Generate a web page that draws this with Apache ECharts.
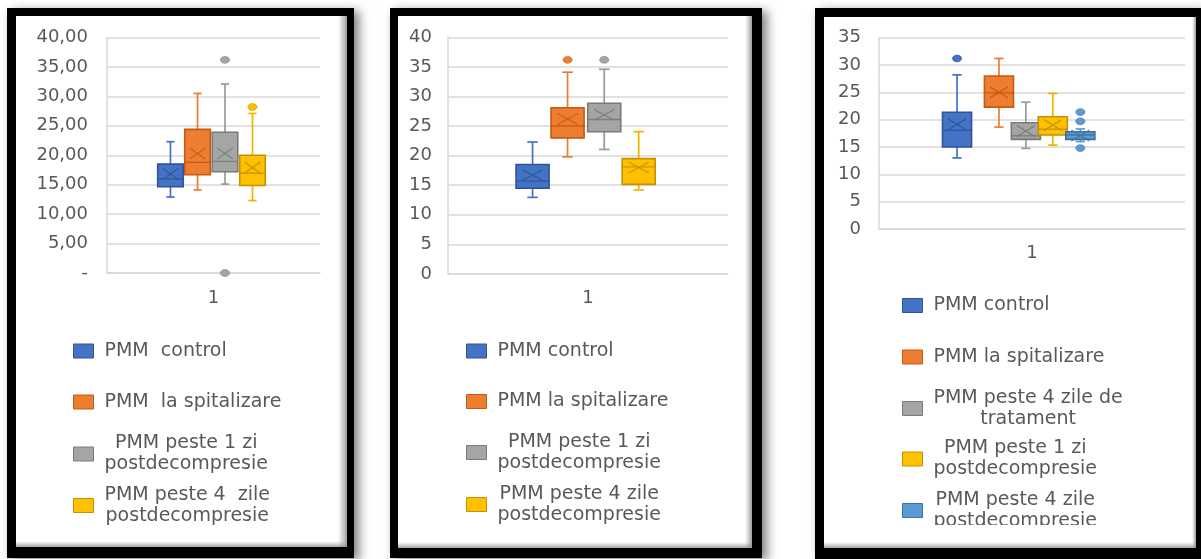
<!DOCTYPE html>
<html>
<head>
<meta charset="utf-8">
<title>PMM</title>
<script src="https://cdn.jsdelivr.net/npm/echarts@6/dist/echarts.min.js"></script>
<style>
  html, body { margin: 0; padding: 0; background: #ffffff; }
  #chart { width: 1201px; height: 559px; }
</style>
</head>
<body>
<div id="chart"></div>
<script>
const categories = ['1'];

// Left panel
const p1Names = ['PMM  control', 'PMM  la spitalizare', 'PMM peste 1 zi\npostdecompresie', 'PMM peste 4  zile\npostdecompresie'];
const p1Min      = [12.9, 14.1, 15.1, 12.3];
const p1Q1       = [14.65, 16.7, 17.2, 14.85];
const p1Median   = [16.0, 18.8, 18.95, 16.95];
const p1Q3       = [18.5, 24.4, 23.9, 20.0];
const p1Max      = [22.3, 30.5, 32.1, 27.1];
const p1Mean     = [16.8, 20.3, 20.3, 17.9];
const p1Outliers = [[], [], [36.2, 0], [28.2]];
const p1Ticks    = ['-', '5,00', '10,00', '15,00', '20,00', '25,00', '30,00', '35,00', '40,00'];

// Middle panel
const p2Names = ['PMM control', 'PMM la spitalizare', 'PMM peste 1 zi\npostdecompresie', 'PMM peste 4 zile\npostdecompresie'];
const p2Min      = [12.95, 19.8, 21.05, 14.2];
const p2Q1       = [14.5, 23.0, 24.05, 15.15];
const p2Median   = [15.7, 25.0, 26.1, 18.1];
const p2Q3       = [18.5, 28.1, 28.85, 19.5];
const p2Max      = [22.3, 34.1, 34.6, 24.05];
const p2Mean     = [16.7, 26.2, 26.9, 18.0];
const p2Outliers = [[], [36.2], [36.2], []];
const p2Ticks    = ['0', '5', '10', '15', '20', '25', '30', '35', '40'];

// Right panel
const p3Names = ['PMM control', 'PMM la spitalizare', 'PMM peste 4 zile de\ntratament', 'PMM peste 1 zi\npostdecompresie', 'PMM peste 4 zile\npostdecompresie'];
const p3Min      = [13.0, 18.65, 14.75, 15.35, 16.0];
const p3Q1       = [15.0, 22.3, 16.4, 17.2, 16.4];
const p3Median   = [18.05, 24.9, 17.05, 18.25, 17.2];
const p3Q3       = [21.35, 28.0, 19.45, 20.55, 17.8];
const p3Max      = [28.2, 31.2, 23.2, 24.8, 18.3];
const p3Mean     = [19.15, 25.0, 17.9, 19.0, 17.1];
const p3Outliers = [[31.2], [], [], [], [21.4, 19.7, 14.8]];
const p3Ticks    = ['0', '5', '10', '15', '20', '25', '30', '35'];

const FONT = 'DejaVu Sans';
const TEXT = '#595959';
const GRIDLINE = '#d9d9d9';

const BLUE   = { fill: '#4472c4', edge: '#2f5597', whisker: '#4472c4' };
const ORANGE = { fill: '#ed7d31', edge: '#c55a11', whisker: '#ea7b35' };
const GRAY   = { fill: '#a5a5a5', edge: '#7a7a7a', whisker: '#9a9a9a' };
const YELLOW = { fill: '#ffc000', edge: '#c29200', whisker: '#eeb400' };
const LBLUE  = { fill: '#5b9bd5', edge: '#3f70a0', whisker: '#5b9bd5' };

const panels = [
  {
    names: p1Names, min: p1Min, q1: p1Q1, median: p1Median, q3: p1Q3, max: p1Max, mean: p1Mean,
    outliers: p1Outliers, ticks: p1Ticks, yMax: 40,
    colors: [BLUE, ORANGE, GRAY, YELLOW],
    grid: { left: 107, top: 37.5, width: 213, height: 235.5 },
    yLabelMargin: 19, xLabelMargin: 16,
    legendLeft: 73, legendRows: [352, 403, 455, 506.5],
    offsets: [-0.202, -0.075, 0.054, 0.183], boxWidth: 0.12
  },
  {
    names: p2Names, min: p2Min, q1: p2Q1, median: p2Median, q3: p2Q3, max: p2Max, mean: p2Mean,
    outliers: p2Outliers, ticks: p2Ticks, yMax: 40,
    colors: [BLUE, ORANGE, GRAY, YELLOW],
    grid: { left: 448, top: 37.3, width: 280, height: 236.7 },
    yLabelMargin: 16, xLabelMargin: 15,
    legendLeft: 466, legendRows: [352, 402.5, 453.5, 505.5],
    offsets: [-0.198, -0.073, 0.058, 0.181], boxWidth: 0.118
  },
  {
    names: p3Names, min: p3Min, q1: p3Q1, median: p3Median, q3: p3Q3, max: p3Max, mean: p3Mean,
    outliers: p3Outliers, ticks: p3Ticks, yMax: 35,
    colors: [BLUE, ORANGE, GRAY, YELLOW, LBLUE],
    grid: { left: 879, top: 37.7, width: 306, height: 191.3 },
    yLabelMargin: 18, xLabelMargin: 15,
    legendLeft: 902, legendRows: [306.5, 358, 409.5, 460, 511.5],
    offsets: [-0.245, -0.108, -0.020, 0.068, 0.158], boxWidth: 0.095
  }
];

// Box with whiskers, median line and an X at the mean
function boxRenderer(color, offset, widthFrac) {
  return function (params, api) {
    const band = api.size([1, 0])[0];
    const cat = api.value(0);
    const cx = api.coord([cat, 0])[0] + offset * band;
    const w = widthFrac * band;
    const yv = d => api.coord([cat, api.value(d)])[1];
    const yMin = yv(1), yQ1 = yv(2), yMed = yv(3), yQ3 = yv(4), yMax = yv(5), yMean = yv(6);
    const cap = w * 0.16;
    const mx = w * 0.31, my = 5.5;
    const whisker = { stroke: color.whisker, lineWidth: 1.7 };
    const inner = { stroke: color.edge, lineWidth: 1.3, opacity: 0.85 };
    return {
      type: 'group',
      children: [
        { type: 'line', shape: { x1: cx, y1: yMax, x2: cx, y2: yQ3 }, style: whisker },
        { type: 'line', shape: { x1: cx, y1: yQ1, x2: cx, y2: yMin }, style: whisker },
        { type: 'line', shape: { x1: cx - cap, y1: yMax, x2: cx + cap, y2: yMax }, style: whisker },
        { type: 'line', shape: { x1: cx - cap, y1: yMin, x2: cx + cap, y2: yMin }, style: whisker },
        { type: 'rect', shape: { x: cx - w / 2, y: yQ3, width: w, height: yQ1 - yQ3 },
          style: { fill: color.fill, stroke: color.edge, lineWidth: 1.6 } },
        { type: 'line', shape: { x1: cx - w / 2, y1: yMed, x2: cx + w / 2, y2: yMed },
          style: { stroke: color.edge, lineWidth: 1.4, opacity: 0.9 } },
        { type: 'line', shape: { x1: cx - mx, y1: yMean - my, x2: cx + mx, y2: yMean + my }, style: inner },
        { type: 'line', shape: { x1: cx - mx, y1: yMean + my, x2: cx + mx, y2: yMean - my }, style: inner }
      ]
    };
  };
}

function outlierRenderer(color, offset) {
  return function (params, api) {
    const band = api.size([1, 0])[0];
    const p = api.coord([api.value(0), api.value(1)]);
    return {
      type: 'ellipse',
      shape: { cx: p[0] + offset * band, cy: p[1], rx: 4.6, ry: 3.4 },
      style: { fill: color.fill, stroke: color.edge, lineWidth: 0.6 }
    };
  };
}

const LINE_H = 21;
const LEGEND_SIZE = 19;
const grids = [], xAxes = [], yAxes = [], series = [], legends = [];

panels.forEach((p, g) => {
  grids.push(Object.assign({ containLabel: false }, p.grid));
  xAxes.push({
    type: 'category', gridIndex: g, data: categories,
    axisTick: { show: false },
    axisLine: { show: true, lineStyle: { color: GRIDLINE, width: 1.5 } },
    axisLabel: { fontFamily: FONT, fontSize: 18, color: TEXT, margin: p.xLabelMargin },
    splitLine: { show: false }
  });
  yAxes.push({
    type: 'value', gridIndex: g, min: 0, max: p.yMax, interval: 5,
    axisTick: { show: false },
    axisLine: { show: true, lineStyle: { color: GRIDLINE, width: 1.5 } },
    splitLine: { show: true, lineStyle: { color: GRIDLINE, width: 1.5 } },
    axisLabel: {
      fontFamily: FONT, fontSize: 18, color: TEXT, margin: p.yLabelMargin,
      formatter: v => p.ticks[Math.round(v / 5)]
    }
  });

  p.names.forEach((name, i) => {
    const color = p.colors[i];
    series.push({
      type: 'custom', name, xAxisIndex: g, yAxisIndex: g,
      itemStyle: { color: color.fill },
      encode: { x: 0, y: [1, 2, 3, 4, 5, 6] },
      data: [[0, p.min[i], p.q1[i], p.median[i], p.q3[i], p.max[i], p.mean[i]]],
      renderItem: boxRenderer(color, p.offsets[i], p.boxWidth),
      silent: true
    });
    if (p.outliers[i].length) {
      series.push({
        type: 'custom', name, xAxisIndex: g, yAxisIndex: g,
        itemStyle: { color: color.fill },
        encode: { x: 0, y: 1 },
        data: p.outliers[i].map(v => [0, v]),
        renderItem: outlierRenderer(color, p.offsets[i]),
        silent: true
      });
    }

    // one legend entry per row; wrapped names are centred line by line
    const lines = name.split('\n');
    legends.push({
      orient: 'vertical', padding: 0,
      left: p.legendLeft,
      top: p.legendRows[i] - (lines.length * LINE_H) / 2,
      itemWidth: 20, itemHeight: 14,
      selectedMode: false,
      data: [{
        name, icon: 'rect',
        itemStyle: { color: color.fill, borderColor: color.edge, borderWidth: 1 }
      }],
      formatter: n => n.split('\n').map(l => '{c|' + l + '}').join('\n'),
      textStyle: {
        fontFamily: FONT, fontSize: LEGEND_SIZE, color: TEXT,
        rich: {
          c: { fontFamily: FONT, fontSize: LEGEND_SIZE, color: TEXT, align: 'center', lineHeight: LINE_H, padding: [0, 0, 0, 6] }
        }
      }
    });
  });
});

// Framed cards behind each chart
const frames = [
  { outer: [7, 8, 347, 550],   inner: [16, 16, 331, 531],  edge: 9 },
  { outer: [390, 8, 372, 550], inner: [398, 16, 354, 532], edge: 7 },
  { outer: [815, 8, 386, 551], inner: [824, 17, 372, 531], edge: 4 }
];
const graphics = [];
frames.forEach(f => {
  const [ox, oy, ow, oh] = f.outer;
  const [ix, iy, iw, ih] = f.inner;
  graphics.push({
    type: 'rect', z: -10, silent: true,
    shape: { x: ox, y: oy, width: ow, height: oh },
    style: { fill: '#000000', shadowBlur: 10, shadowColor: 'rgba(0,0,0,0.5)', shadowOffsetX: 5, shadowOffsetY: 3 }
  });
  graphics.push({
    type: 'rect', z: -9, silent: true,
    shape: { x: ix, y: iy, width: iw, height: ih },
    style: { fill: '#ffffff' }
  });
  graphics.push({
    type: 'rect', z: -8, silent: true,
    shape: { x: ix + iw - f.edge, y: iy, width: f.edge, height: ih },
    style: { fill: new echarts.graphic.LinearGradient(0, 0, 1, 0, [
      { offset: 0, color: 'rgba(160,160,160,0)' },
      { offset: 1, color: 'rgba(140,140,140,0.85)' }
    ]) }
  });
  graphics.push({
    type: 'rect', z: -8, silent: true,
    shape: { x: ix, y: iy + ih - 6, width: iw, height: 6 },
    style: { fill: new echarts.graphic.LinearGradient(0, 0, 0, 1, [
      { offset: 0, color: 'rgba(160,160,160,0)' },
      { offset: 1, color: 'rgba(140,140,140,0.8)' }
    ]) }
  });
});
// The right card's legend runs past its frame and is cut off
graphics.push({
  type: 'rect', z: 100, silent: true,
  shape: { x: 895, y: 525, width: 290, height: 17 },
  style: { fill: '#ffffff' }
});

const chart = echarts.init(document.getElementById('chart'));
chart.setOption({
  animation: false,
  backgroundColor: '#ffffff',
  grid: grids,
  xAxis: xAxes,
  yAxis: yAxes,
  legend: legends,
  series: series,
  graphic: graphics
});
</script>
</body>
</html>
